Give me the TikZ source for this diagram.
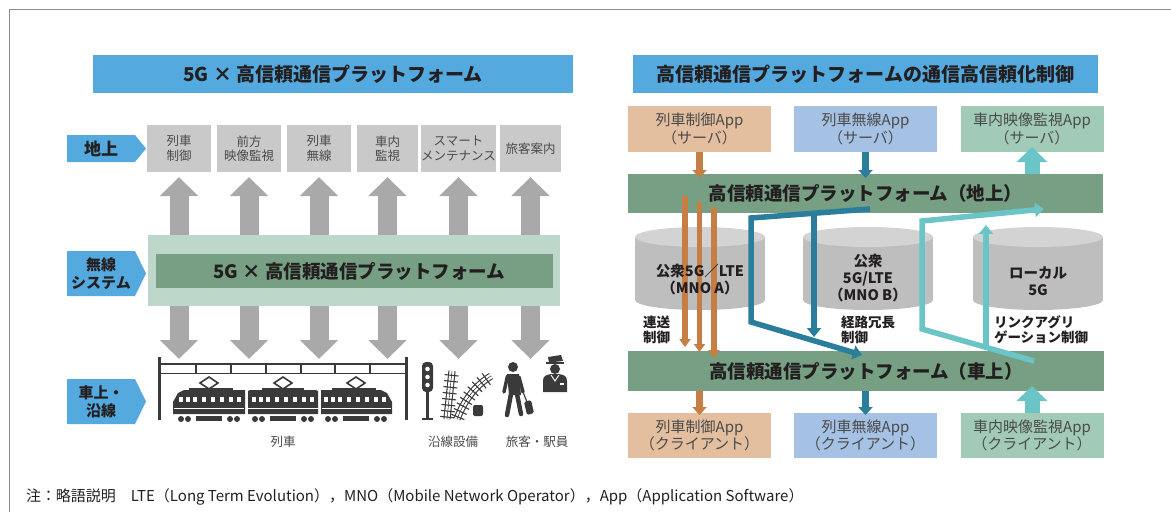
\documentclass[tikz,border=0pt]{standalone}
\usepackage{fontspec}
\setmainfont{Noto Sans CJK JP}
\usetikzlibrary{arrows.meta,decorations.markings}

\definecolor{hdrblue}{HTML}{54A9DF}
\definecolor{boxgray}{HTML}{C9C9C9}
\definecolor{arrowgray}{HTML}{A9A9A9}
\definecolor{panelgreen}{HTML}{BDD8CA}
\definecolor{bargreen}{HTML}{779F84}
\definecolor{orbox}{HTML}{E3BFA0}
\definecolor{blbox}{HTML}{A5C1E3}
\definecolor{grbox}{HTML}{A1CBB7}
\definecolor{orline}{HTML}{C77E44}
\definecolor{blline}{HTML}{2B7E9B}
\definecolor{tlline}{HTML}{6BC5C7}
\definecolor{cylbody}{HTML}{BEBEBE}
\definecolor{cyltop}{HTML}{D3D3D3}
\definecolor{inkdark}{HTML}{231F20}
\definecolor{inkmid}{HTML}{4A4A4A}
\definecolor{icondark}{HTML}{3A3A3A}
\definecolor{framegray}{HTML}{8C8C8C}

\begin{document}
\begin{tikzpicture}[x=1pt,y=-1pt,
  every node/.style={inner sep=0pt,outer sep=0pt},
  hdr/.style={fill=hdrblue,text=inkdark,font=\fontsize{19}{23}\selectfont\bfseries},
  rowlab/.style={text=inkdark,align=center,font=\fontsize{15}{18}\selectfont\bfseries},
  gbox/.style={fill=boxgray,text=inkmid,align=center,minimum height=47pt,
    font=\fontsize{12.5}{14.5}\selectfont},
  upgray/.style={draw=arrowgray,line width=19pt,-{Triangle[length=19pt,width=37pt]}},
  appbox/.style={text=inkmid,align=center,minimum width=143pt,
    font=\fontsize{15}{17.5}\selectfont},
  pfbar/.style={fill=bargreen,text=inkdark,font=\fontsize{18.5}{22}\selectfont\bfseries},
  cyltext/.style={text=inkdark,align=center,font=\fontsize{14.5}{17}\selectfont\bfseries},
  ctrltext/.style={text=inkdark,align=left,anchor=west,font=\fontsize{13.5}{15}\selectfont\bfseries},
  undertext/.style={text=inkmid,font=\fontsize{12.5}{15}\selectfont},
  orbig/.style={draw=orline,line width=7pt,-{Triangle[length=8pt,width=14pt]}},
  blbig/.style={draw=blline,line width=7pt,-{Triangle[length=8pt,width=14pt]}},
  tlbig/.style={draw=tlline,line width=15pt,-{Triangle[length=15pt,width=30pt]}},
  orthin/.style={draw=orline,line width=5.5pt,-{Triangle[length=8pt,width=11pt]}},
  route/.style={line width=5.5pt,line join=miter,-{Triangle[length=9pt,width=14pt]}},
  track/.style={draw=icondark,line width=1.1pt,double=white,double distance=5pt},
  ties/.style={postaction={decorate},decoration={markings,
    mark=between positions 0.04 and 0.98 step 6pt with {\draw[icondark,line width=1.1pt] (0,-7pt) -- (0,7pt);}}}
]
\useasboundingbox (0,0) rectangle (1171,512);

% outer frame (top and left edges)
\draw[framegray,line width=1.4pt] (9.5,512) -- (9.5,9.5) -- (1171,9.5);

% ================= left panel =================
\node[hdr,minimum width=480pt,minimum height=38pt] (ltitle) at (333,74) {5G × 高信頼通信プラットフォーム};

% row labels
\fill[hdrblue] (67,135) -- (135,135) -- (146,148.5) -- (135,162) -- (67,162) -- cycle;
\node[rowlab,font=\fontsize{17}{20}\selectfont\bfseries] (lab1) at (101,148.5) {地上};
\fill[hdrblue] (67,251) -- (135,251) -- (146,273.5) -- (135,296) -- (67,296) -- cycle;
\node[rowlab] (lab2) at (101,273.5) {無線\\システム};
\fill[hdrblue] (67,379) -- (135,379) -- (146,401.5) -- (135,424) -- (67,424) -- cycle;
\node[rowlab] (lab3) at (101,401.5) {車上・\\沿線};

% ground-side services
\node[gbox,minimum width=64pt] (g1) at (179,148.5) {列車\\制御};
\node[gbox,minimum width=64pt] (g2) at (249,148.5) {前方\\映像監視};
\node[gbox,minimum width=64pt] (g3) at (319,148.5) {列車\\無線};
\node[gbox,minimum width=61pt] (g4) at (387.5,148.5) {車内\\監視};
\node[gbox,minimum width=69pt] (g5) at (458.5,148.5) {スマート\\メンテナンス};
\node[gbox,minimum width=61pt] (g6) at (530.5,148.5) {旅客案内};

% wireless platform
\node[fill=panelgreen,minimum width=412pt,minimum height=71pt] (panel) at (354,270.5) {};
\node[fill=bargreen,text=inkdark,minimum width=397pt,minimum height=34pt,
  font=\fontsize{18.5}{22}\selectfont\bfseries] (core) at (354.5,271) {\hspace*{10pt}5G × 高信頼通信プラットフォーム};

% upward arrows to the ground services
\foreach \g in {g1,g2,g3,g4,g5,g6}
  \draw[upgray] (panel.north -| \g.south) -- ([yshift=-5pt]\g.south);

% downward arrows to trains, wayside and passengers
\foreach \g/\x in {1/179,2/249,3/319,4/387.5,5/458.5,6/530.5}
  \coordinate (t\g) at (\x,359);
\foreach \g in {1,...,6}
  \draw[upgray] (panel.south -| t\g) -- (t\g);

% catenary
\fill[icondark] (158,357) rectangle (161,420);
\fill[icondark] (405,357) rectangle (408,420);
\draw[icondark,line width=1.8pt] (159,364) -- (407,364);
\draw[icondark,line width=1.8pt] (159,373.5) -- (407,373.5);
\foreach \x in {196,231,266,301,335,370}
  \draw[icondark,line width=1.4pt] (\x,364) -- (\x,373.5);

% pantographs
\foreach \cx in {209,283,356}{
  \draw[icondark,line width=1.6pt,line join=miter] (\cx,377) -- (\cx+9,383) -- (\cx,389) -- (\cx-9,383) -- cycle;
  \draw[icondark,line width=1.6pt] (\cx-5,390) -- (\cx+5,390);
}

% train cars
\begin{scope}[shift={(173,0)}]
  \fill[icondark] (0,414) -- (0,402) -- (5,393) -- (11,390) -- (72,390) -- (72,414) -- cycle;
  \fill[icondark] (16,387.5) rectangle (60,390.5);
  \foreach \w in {6,13,20,29,38,47,56,64} \fill[white] (\w,397) rectangle +(4,5);
  \draw[white,line width=1pt] (1,408) -- (71,408);
  \foreach \w in {8,15,57,64} \fill[icondark] (\w,419) circle[radius=3pt];
  \fill[icondark] (23,416) rectangle (49,421);
\end{scope}
\begin{scope}[shift={(248,0)}]
  \fill[icondark] (0,414) -- (0,391) -- (2,390) -- (68,390) -- (70,391) -- (70,414) -- cycle;
  \fill[icondark] (14,387.5) rectangle (56,390.5);
  \foreach \w in {4,11,18,27,36,45,54,62} \fill[white] (\w,397) rectangle +(4,5);
  \draw[white,line width=1pt] (0,408) -- (70,408);
  \foreach \w in {7,14,56,63} \fill[icondark] (\w,419) circle[radius=3pt];
  \fill[icondark] (22,416) rectangle (48,421);
\end{scope}
\begin{scope}[shift={(321,0)}]
  \fill[icondark] (0,414) -- (0,390) -- (60,390) -- (66,393) -- (71,402) -- (71,414) -- cycle;
  \fill[icondark] (11,387.5) rectangle (55,390.5);
  \foreach \w in {3,10,17,26,35,44,53,61} \fill[white] (\w,397) rectangle +(4,5);
  \draw[white,line width=1pt] (1,408) -- (70,408);
  \foreach \w in {7,14,56,63} \fill[icondark] (\w,419) circle[radius=3pt];
  \fill[icondark] (22,416) rectangle (48,421);
\end{scope}

% signal
\fill[icondark] (426,390) rectangle (429,418);
\fill[icondark] (422,417.5) rectangle (433,420);
\fill[icondark,rounded corners=4pt] (422,362) rectangle (433,392);
\foreach \y in {369,377,385} \fill[white] (427.5,\y) circle[radius=2.3pt];

% track turnout
\draw[track] (447,419) -- (452,371);
\draw[ties] (447,419) -- (452,371);
\draw[track] (457,419) .. controls (465,399) and (475,386) .. (491,376);
\draw[ties] (457,419) .. controls (465,399) and (475,386) .. (491,376);
\fill[icondark,rounded corners=2pt] (473,405) rectangle (483,416);

% passenger
\fill[icondark] (513,367) circle[radius=5pt];
\fill[icondark] (507,374) -- (519,374) -- (521,395) -- (509,395) -- cycle;
\draw[icondark,line width=3.5pt,line cap=round] (507.5,376) -- (504,392);
\draw[icondark,line width=3.5pt,line cap=round] (519,377) -- (523,392);
\draw[icondark,line width=4.5pt,line cap=round] (511,394) -- (507,415);
\draw[icondark,line width=4.5pt,line cap=round] (517,394) -- (521,414);
\draw[icondark,line width=1.2pt] (523,392) -- (527,402);
\fill[icondark,rounded corners=1.5pt] (524,402) -- (531,400) -- (534,413) -- (527,415) -- cycle;

% station staff
\fill[icondark] (548,357) -- (561,355) -- (563,361) -- (549,362.5) -- cycle;
\fill[icondark] (546,362) rectangle (564,363.5);
\fill[icondark] (555,369) circle[radius=5pt];
\fill[icondark] (543,392) -- (543,381) .. controls (543,376) and (546,375) .. (551,374)
  -- (559,374) .. controls (564,375) and (567,376) .. (567,381) -- (567,392) -- cycle;
\draw[white,line width=0.9pt] (551,375) -- (555,381) -- (559,375);
\fill[white] (560,383) rectangle (564,384.5);

\node[undertext] (cap1) at (283,442) {列車};
\node[undertext] (cap2) at (453,442) {沿線設備};
\node[undertext] (cap3) at (537,442) {旅客・駅員};

% ================= right panel =================
\node[hdr,minimum width=465pt,minimum height=38pt] (rtitle) at (865.5,74) {高信頼通信プラットフォームの通信高信頼化制御};

\node[appbox,fill=orbox,minimum height=46pt] (s1) at (699.5,129) {列車制御App\\（サーバ）};
\node[appbox,fill=blbox,minimum height=46pt] (s2) at (865.5,129) {列車無線App\\（サーバ）};
\node[appbox,fill=grbox,minimum height=46pt] (s3) at (1032,129) {車内映像監視App\\（サーバ）};

\node[pfbar,minimum width=475pt,minimum height=39pt] (gbar) at (865.5,193.5) {高信頼通信プラットフォーム（地上）};
\node[pfbar,minimum width=476pt,minimum height=40pt] (vbar) at (866,371) {高信頼通信プラットフォーム（車上）};

\node[appbox,fill=orbox,minimum height=45pt] (c1) at (699.5,435.5) {列車制御App\\（クライアント）};
\node[appbox,fill=blbox,minimum height=45pt] (c2) at (865.5,435.5) {列車無線App\\（クライアント）};
\node[appbox,fill=grbox,minimum height=45pt] (c3) at (1032,435.5) {車内映像監視App\\（クライアント）};

% access networks
\foreach \n/\cx in {1/700,2/868,3/1038}{
  \fill[cylbody] (\cx-65,237) rectangle (\cx+65,300);
  \fill[cylbody] (\cx,300) ellipse[x radius=65pt,y radius=10pt];
  \fill[cyltop] (\cx,237) ellipse[x radius=65pt,y radius=10pt];
}

% server / client links
\draw[orbig,shorten >=-4pt] (s1.south) -- (s1.south |- gbar.north);
\draw[blbig,shorten >=-4pt] (s2.south) -- (s2.south |- gbar.north);
\draw[tlbig,shorten >=-5pt] (gbar.north -| s3.south) -- (s3.south);
\draw[orbig,shorten >=-2pt] (vbar.south -| c1.north) -- (c1.north);
\draw[blbig,shorten >=-2pt] (vbar.south -| c2.north) -- (c2.north);
\draw[tlbig,shorten >=-5pt] (c3.north) -- (c3.north |- vbar.south);

% redundant transmission over MNO A
\coordinate (o1s) at (685,196);   \coordinate (o1e) at (685,347);
\coordinate (o2s) at (699.5,202); \coordinate (o2e) at (699.5,352);
\coordinate (o3s) at (714,207);   \coordinate (o3e) at (714,358);
\draw[orthin] (o1s) -- (o1e);
\draw[orthin] (o2s) -- (o2e);
\draw[orthin] (o3s) -- (o3e);

% route redundancy over MNO B
\coordinate (bA) at (870,209);
\coordinate (bB) at (751,218);
\coordinate (bC) at (751,322);
\coordinate (bD) at (862,355);
\coordinate (bE) at (814,213.5);
\coordinate (bF) at (814,337);
\draw[route,draw=blline] (bA) -- (bB) -- (bC) -- (bD);
\draw[route,draw=blline] (bE) -- (bF);

% link aggregation over local 5G
\coordinate (tA) at (1034,361);
\coordinate (tB) at (922,329);
\coordinate (tC) at (922,221);
\coordinate (tD) at (1044,209);
\coordinate (tE) at (986,347);
\coordinate (tF) at (986,225);
\draw[route,draw=tlline] (tA) -- (tB) -- (tC) -- (tD);
\draw[route,draw=tlline] (tE) -- (tF);

% network labels
\node[cyltext] (n1) at (700,280) {公衆5G／LTE\\（MNO A）};
\node[cyltext] (n2) at (868,278) {公衆\\5G/LTE\\（MNO B）};
\node[cyltext] (n3) at (1038,281) {ローカル\\5G};

\node[ctrltext] (m1) at (643,330) {連送\\制御};
\node[ctrltext] (m2) at (841,330) {経路冗長\\制御};
\node[ctrltext] (m3) at (994,330) {リンクアグリ\\ゲーション制御};

% footnote
\node[anchor=west,text=inkdark,font=\fontsize{15}{18}\selectfont] (note) at (26,497)
  {注：略語説明　LTE（Long Term Evolution），MNO（Mobile Network Operator），App（Application Software）};

\end{tikzpicture}
\end{document}
